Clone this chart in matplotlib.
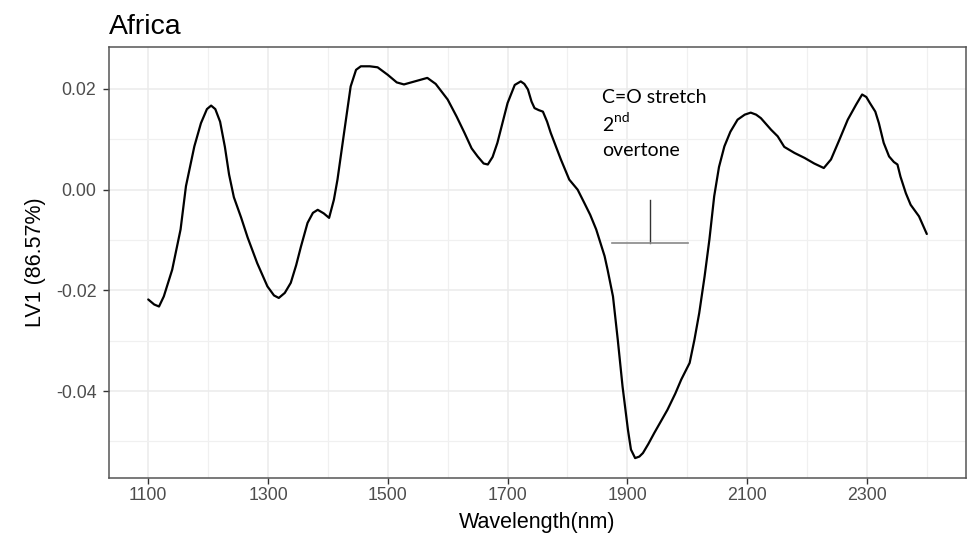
import matplotlib
matplotlib.use("Agg")
import matplotlib.pyplot as plt
from matplotlib.ticker import MultipleLocator, FixedLocator

# Loading weights of the first latent variable across the NIR range
wavelength = [
    1100, 1110, 1118, 1126, 1140, 1154, 1163, 1177, 1188, 1198, 1205, 1212, 1220,
    1228, 1235, 1243, 1255, 1266, 1282, 1299, 1310, 1318, 1328, 1338, 1347, 1355,
    1366, 1375, 1383, 1393, 1402, 1410, 1416, 1427, 1438, 1447, 1455, 1470, 1483,
    1500, 1515, 1527, 1545, 1566, 1580, 1600, 1615, 1628, 1640, 1650, 1660, 1667,
    1675, 1683, 1700, 1712, 1722, 1728, 1734, 1740, 1745, 1752, 1759, 1766, 1772,
    1789, 1803, 1817, 1828, 1838, 1848, 1862, 1867, 1876, 1884, 1892, 1901, 1906,
    1913, 1920, 1926, 1935, 1945, 1956, 1967, 1980, 1990, 2004, 2012, 2020, 2029,
    2037, 2045, 2053, 2062, 2072, 2084, 2096, 2106, 2115, 2123, 2140, 2151, 2162,
    2179, 2196, 2212, 2228, 2240, 2254, 2268, 2282, 2292, 2299, 2305, 2314, 2320,
    2328, 2337, 2345, 2351, 2356, 2365, 2373, 2387, 2400,
]
lv1 = [
    -0.0218, -0.0228, -0.0232, -0.0212, -0.0159, -0.0079, 0.0007, 0.0086, 0.0132,
    0.0160, 0.0167, 0.0160, 0.0135, 0.0085, 0.0030, -0.0015, -0.0055, -0.0095,
    -0.0146, -0.0192, -0.0210, -0.0215, -0.0205, -0.0185, -0.0150, -0.0113,
    -0.0066, -0.0046, -0.0040, -0.0047, -0.0056, -0.0020, 0.0020, 0.0113, 0.0205,
    0.0238, 0.0245, 0.0245, 0.0243, 0.0228, 0.0213, 0.0209, 0.0215, 0.0222,
    0.0210, 0.0179, 0.0145, 0.0113, 0.0082, 0.0066, 0.0052, 0.0050, 0.0065,
    0.0093, 0.0172, 0.0208, 0.0215, 0.0210, 0.0199, 0.0175, 0.0162, 0.0158,
    0.0155, 0.0135, 0.0113, 0.0060, 0.0020, 0.0000, -0.0026, -0.0050, -0.0079,
    -0.0132, -0.0159, -0.0212, -0.0298, -0.0391, -0.0477, -0.0516, -0.0533,
    -0.0530, -0.0523, -0.0505, -0.0483, -0.0460, -0.0437, -0.0405, -0.0377,
    -0.0344, -0.0298, -0.0245, -0.0172, -0.0099, -0.0013, 0.0045, 0.0086,
    0.0115, 0.0139, 0.0149, 0.0153, 0.0149, 0.0142, 0.0119, 0.0106, 0.0085,
    0.0073, 0.0063, 0.0052, 0.0043, 0.0060, 0.0099, 0.0139, 0.0169, 0.0189,
    0.0184, 0.0172, 0.0155, 0.0132, 0.0093, 0.0066, 0.0055, 0.0050, 0.0026,
    -0.0007, -0.0030, -0.0053, -0.0088,
]

x_ticks = [1100, 1300, 1500, 1700, 1900, 2100, 2300]
y_ticks = [-0.04, -0.02, 0.00, 0.02]
y_ticklabels = ["-0.04", "-0.02", "0.00", "0.02"]

# Band marker for the C=O stretch 2nd overtone
band_center = 1938
band_span = (1874, 2002)
band_level = -0.0106
band_top = -0.0020

plt.rcParams["font.family"] = ["Liberation Sans", "DejaVu Sans"]

fig = plt.figure(figsize=(9.75, 5.4), dpi=100)
ax = fig.add_axes([0.1121, 0.1154, 0.9905 - 0.1121, 0.9135 - 0.1154])

xmin, xmax = min(wavelength), max(wavelength)
ymin, ymax = min(lv1), max(lv1)
xpad = (xmax - xmin) * 0.05
ypad = (ymax - ymin) * 0.05
ax.set_xlim(xmin - xpad, xmax + xpad)
ax.set_ylim(ymin - ypad, ymax + ypad)

ax.xaxis.set_major_locator(FixedLocator(x_ticks))
ax.xaxis.set_minor_locator(MultipleLocator(100))
ax.set_yticks(y_ticks)
ax.set_yticklabels(y_ticklabels)
ax.yaxis.set_minor_locator(FixedLocator([-0.05, -0.03, -0.01, 0.01]))

ax.grid(which="major", color="#EBEBEB", linewidth=1.1)
ax.grid(which="minor", color="#F0F0F0", linewidth=0.9)
ax.set_axisbelow(True)
ax.tick_params(which="minor", length=0)
ax.tick_params(which="major", length=4.3, width=1.0, color="#333333",
               labelsize=12.8, labelcolor="#4D4D4D")
ax.tick_params(axis="x", pad=2.5)
ax.tick_params(axis="y", pad=5.0)
for s in ax.spines.values():
    s.set_color("#555555")
    s.set_linewidth(1.1)

ax.plot(wavelength, lv1, color="black", linewidth=1.6, solid_capstyle="round")

ax.set_xlabel("Wavelength(nm)", fontsize=15.5, color="black", labelpad=6)
ax.set_ylabel("LV1 (86.57%)", fontsize=15.5, color="black", labelpad=7)
ax.set_title("Africa", fontsize=20.5, loc="left", color="black", pad=9)

# Annotation
ax.plot([band_center, band_center], [band_level, band_top], color="#333333", linewidth=1.0)
ax.plot(list(band_span), [band_level, band_level], color="#888888", linewidth=1.2)

ann_font = ["Lato", "DejaVu Sans"]
ann_x = 1858
ax.text(ann_x, 0.0173, "C=O stretch", fontsize=14, family=ann_font, va="baseline")
t2 = ax.text(ann_x, 0.0116, "2", fontsize=14, family=ann_font, va="baseline")
ax.text(ann_x, 0.0066, "overtone", fontsize=14, family=ann_font, va="baseline")

fig.canvas.draw()
bb = t2.get_window_extent(renderer=fig.canvas.get_renderer())
ax.annotate("nd", xy=(ann_x, 0.0116), xycoords="data",
            xytext=(bb.width * 72 / fig.dpi + 0.5, 6.5), textcoords="offset points",
            fontsize=10, family=ann_font, va="baseline")

fig.savefig("out.png", dpi=100)
